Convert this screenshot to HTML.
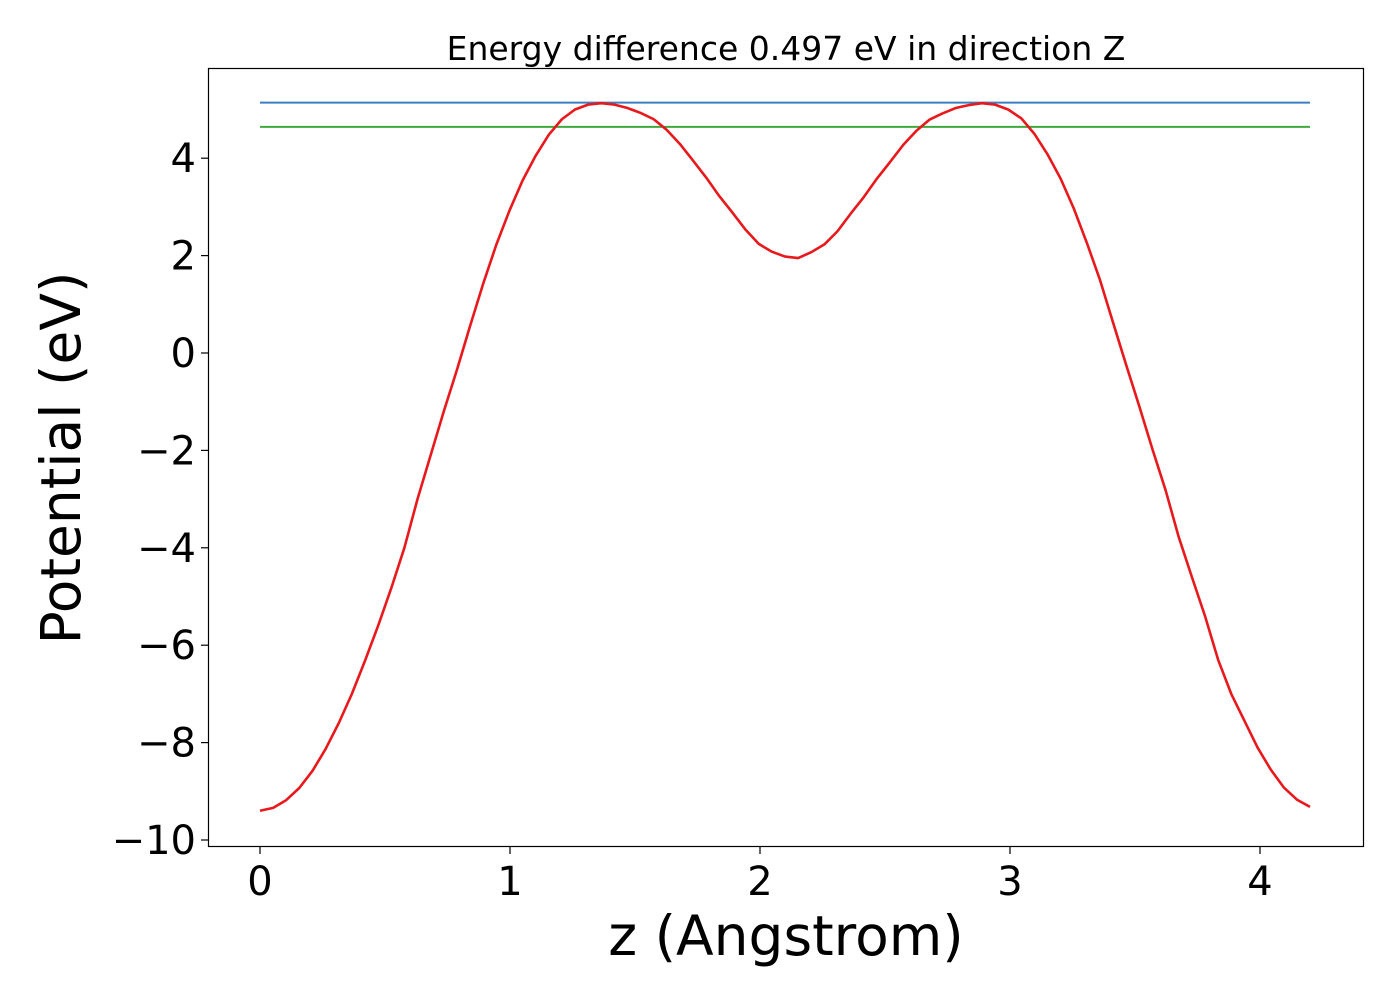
<!DOCTYPE html>
<html><head><meta charset="utf-8">
<style>
html,body{margin:0;padding:0;background:#fff;}
svg{display:block;font-family:"DejaVu Sans","Liberation Sans",sans-serif;}
</style></head>
<body>
<svg id="chart" width="1400" height="1000" viewBox="0 0 1400 1000" xmlns="http://www.w3.org/2000/svg">
<rect x="0" y="0" width="1400" height="1000" fill="#fff"/>
<text x="786" y="60" text-anchor="middle" font-size="33" fill="#000">Energy difference 0.497 eV in direction Z</text>
<g id="plot"></g>
<rect x="208.5" y="68.5" width="1155" height="778" fill="none" stroke="#000" stroke-width="1.2"/>
<g id="xticks"></g>
<g id="yticks"></g>
<text x="786" y="955" text-anchor="middle" font-size="55" fill="#000">z (Angstrom)</text>
<text transform="translate(80,458) rotate(-90)" text-anchor="middle" font-size="55" fill="#000">Potential (eV)</text>
</svg>
<script>
const xStep = 0.0525;
const potential = [-9.4,-9.34,-9.18,-8.93,-8.58,-8.13,-7.6,-7.0,-6.32,-5.6,-4.83,-4.0,-3.0,-2.1,
-1.2,-0.35,0.55,1.42,2.22,2.92,3.54,4.05,4.48,4.8,5.0,5.1,5.13,5.1,5.03,4.93,4.8,4.58,4.29,3.95,
3.6,3.22,2.88,2.53,2.24,2.08,1.98,1.95,
2.07,2.23,2.5,2.86,3.2,3.58,3.92,4.27,4.56,4.79,4.92,5.03,5.09,5.13,5.1,5.0,4.82,4.5,4.08,3.58,
2.97,2.26,1.5,0.62,-0.25,-1.1,-1.98,-2.82,-3.78,-4.6,-5.4,-6.3,-7.0,-7.55,-8.1,-8.55,-8.92,-9.17,-9.32];
const maxLevel = [5.14];
const refLevel = [4.643];
const lineXRange = [0, 4.2];
const xTicks = [0,1,2,3,4];
const xTickLabels = ["0","1","2","3","4"];
const yTicks = [4,2,0,-2,-4,-6,-8,-10];
const yTickLabels = ["4","2","0","\u22122","\u22124","\u22126","\u22128","\u221210"];

const NS = "http://www.w3.org/2000/svg";
function xs(v){ return 260 + v*250; }
function ys(v){ return 353 - v*48.7; }
function mk(tag, attrs, parent){
  const e = document.createElementNS(NS, tag);
  for (const k in attrs) e.setAttribute(k, attrs[k]);
  parent.appendChild(e); return e;
}
const plot = document.getElementById('plot');
const bl = mk('line',{x1:xs(lineXRange[0]),x2:xs(lineXRange[1]),y1:ys(maxLevel[0]),y2:ys(maxLevel[0]),stroke:'#3a7fc1','stroke-width':2},plot);


const gl = mk('line',{x1:xs(lineXRange[0]),x2:xs(lineXRange[1]),y1:ys(refLevel[0]),y2:ys(refLevel[0]),stroke:'#3fa93f','stroke-width':2},plot);


const pts = potential.map((v,i)=>xs(i*xStep).toFixed(2)+','+ys(v).toFixed(2)).join(' ');
const pl = mk('polyline',{points:pts,fill:'none',stroke:'#e8191c','stroke-width':2.6,'stroke-linejoin':'round'},plot);



const xg = document.getElementById('xticks');
xTicks.forEach((t,i)=>{
  const l = mk('line',{x1:xs(t),x2:xs(t),y1:847,y2:854,stroke:'#000','stroke-width':1.2},xg);
  
  
  const tx = mk('text',{x:xs(t),y:895,'text-anchor':'middle','font-size':40,fill:'#000'},xg);
  tx.textContent = xTickLabels[i];
  
  
});
const yg = document.getElementById('yticks');
yTicks.forEach((t,i)=>{
  const l = mk('line',{x1:201,x2:208,y1:ys(t),y2:ys(t),stroke:'#000','stroke-width':1.2},yg);
  
  
  const tx = mk('text',{x:196,y:ys(t)+14,'text-anchor':'end','font-size':40,fill:'#000'},yg);
  tx.textContent = yTickLabels[i];
  
  
});
</script>
</body></html>
